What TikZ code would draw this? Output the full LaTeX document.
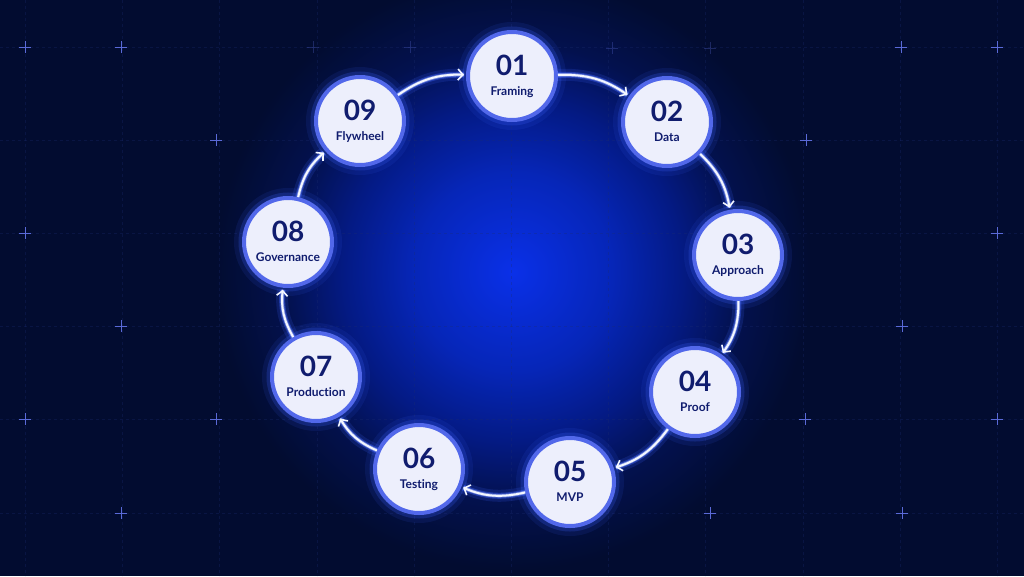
\documentclass[tikz,border=0pt]{standalone}
\usepackage{fontspec}
\setmainfont{Lato}[Ligatures=NoCommon]
\usetikzlibrary{arrows.meta}
\definecolor{bgdark}{HTML}{020C30}
\definecolor{glowa}{HTML}{03114E}
\definecolor{glowb}{HTML}{041A84}
\definecolor{glowc}{HTML}{0626B8}
\definecolor{glowd}{HTML}{0A30E8}
\definecolor{nodefill}{HTML}{EDEFFC}
\definecolor{ringblue}{HTML}{5268EA}
\definecolor{haloblue}{HTML}{3D63FF}
\definecolor{numblue}{HTML}{101C6E}
\definecolor{linewhite}{HTML}{F4F7FF}
\definecolor{gridline}{HTML}{1C2C70}
\definecolor{crosscol}{HTML}{5A6AD8}
\pgfdeclareradialshading{bgglow}{\pgfpoint{0bp}{0bp}}{color(0bp)=(glowd); color(8.3bp)=(glowc); color(14.2bp)=(glowb); color(19.2bp)=(glowa); color(25bp)=(bgdark); color(50bp)=(bgdark)}
\tikzset{
  stepnode/.style={circle, minimum size=88pt, inner sep=0pt, fill=nodefill, draw=ringblue, line width=4pt,
    preaction={draw=haloblue, line width=20pt, opacity=0.10},
    preaction={draw=haloblue, line width=11pt, opacity=0.22},
    text=numblue, align=center, font=\fontsize{12}{20}\selectfont\bfseries},
  flow/.style={draw=linewhite, line width=2pt, shorten >=2pt,
    -{Straight Barb[length=5pt,width=11pt,line width=1.6pt]},
    preaction={draw=haloblue, line width=12pt, opacity=0.16, arrows=-},
    preaction={draw=haloblue, line width=6pt, opacity=0.4, arrows=-},
    preaction={draw=linewhite!60!haloblue, line width=3.5pt, opacity=0.6, arrows=-}},
  gridln/.style={draw=gridline, line width=0.5pt, opacity=0.3, dash pattern=on 3pt off 3pt},
  crossmk/.style={draw=crosscol, line width=0.8pt},
  crossdim/.style={draw=crosscol, line width=0.7pt, opacity=0.3}
}
\newcommand{\num}[1]{{\fontsize{28}{28}\selectfont #1}}
\begin{document}
\begin{tikzpicture}[x=1pt,y=1pt]
\useasboundingbox (0,0) rectangle (1024,-576);
\fill[bgdark] (0,0) rectangle (1024,-576);
\shade[shading=bgglow] (513,-272) circle (298);
% grid
\foreach \gx in {25,122,219,317,414,511,608,705,803,900,997}
  \draw[gridln] (\gx,0) -- (\gx,-576);
\foreach \gy in {47,140,233,326,419,513}
  \draw[gridln] (0,-\gy) -- (1024,-\gy);
% crosses
\foreach \cx/\cy in {25/47,121/47,901/47,997/47,216/140,806/140,25/233,997/233,121/326,902/326,25/419,216/419,805/419,997/419,121/513,710/513,902/513}
  \draw[crossmk] (\cx-6,-\cy) -- (\cx+6,-\cy) (\cx,-\cy-6) -- (\cx,-\cy+6);
\foreach \cx/\cy in {313/47,410/47,612/48,710/48}
  \draw[crossdim] (\cx-6,-\cy) -- (\cx+6,-\cy) (\cx,-\cy-6) -- (\cx,-\cy+6);
% nodes
\node[stepnode] (n1) at (512,-76)  {\num{01}\\Framing\vphantom{g}};
\node[stepnode] (n2) at (667,-122) {\num{02}\\Data\vphantom{g}};
\node[stepnode] (n3) at (738,-255) {\num{03}\\Approach\vphantom{g}};
\node[stepnode] (n4) at (695,-392) {\num{04}\\Proof\vphantom{g}};
\node[stepnode] (n5) at (570,-482) {\num{05}\\MVP\vphantom{g}};
\node[stepnode] (n6) at (419,-469) {\num{06}\\Testing\vphantom{g}};
\node[stepnode] (n7) at (316,-377) {\num{07}\\Produc\kern0pt tion\vphantom{g}};
\node[stepnode] (n8) at (288,-242) {\num{08}\\Governance\vphantom{g}};
\node[stepnode] (n9) at (360,-121) {\num{09}\\Flywheel\vphantom{g}};
% connectors
\draw[flow] (n1) to[bend left=18] (n2);
\draw[flow] (n2) to[bend left=18] (n3);
\draw[flow] (n3) to[bend left=18] (n4);
\draw[flow] (n4) to[bend left=18] (n5);
\draw[flow] (n5) to[bend left=18] (n6);
\draw[flow] (n6) to[bend left=18] (n7);
\draw[flow] (n7) to[bend left=18] (n8);
\draw[flow] (n8) to[bend left=18] (n9);
\draw[flow] (n9) to[bend left=18] (n1);
\end{tikzpicture}
\end{document}
